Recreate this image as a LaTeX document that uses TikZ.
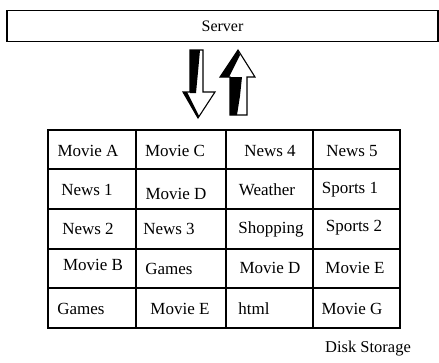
\documentclass[tikz,border=0pt]{standalone}
\usepackage{fontspec}
\setmainfont{Liberation Serif}
\begin{document}
\begin{tikzpicture}[x=1pt,y=-1pt,
  frame/.style={line width=1.2pt},
  celltext/.style={inner sep=0pt,font=\fontsize{17}{20}\selectfont},
  blockarrow/.style={draw,fill=white,line width=1.1pt,line join=miter},
  shade/.style={fill=black}]
\useasboundingbox (0,0) rectangle (439,362);

% server bar
\node[frame,draw,minimum width=431pt,minimum height=31pt,inner sep=0pt,
      font=\fontsize{16}{19}\selectfont] (server) at (222.5,26) {Server};

% down arrow (server to storage)
\draw[blockarrow] (190,50) -- (203,50) -- (203,92) -- (215,92) -- (198,118)
  -- (183,92) -- (190,92) -- cycle;
\fill[shade] (190,50) -- (200,50) -- (198,72) -- (196,93) -- (190,93) -- cycle;
\fill[shade] (183,92) -- (187,92) -- (199,116) -- (198,118) -- cycle;
\coordinate (downtip) at (198,118);

% up arrow (storage to server)
\draw[blockarrow] (238,50) -- (255,77) -- (247,77) -- (247,115) -- (230,115)
  -- (230,77) -- (220,77) -- cycle;
\fill[shade] (230,77) -- (242,77) -- (240,96) -- (237,115) -- (230,115) -- cycle;
\fill[shade] (238,50) -- (220,77) -- (229,77) -- (240,55) -- cycle;
\coordinate (uptip) at (238,50);

% disk storage grid
\draw[frame] (48,130) rectangle (400,328);
\foreach \cx in {136,226,313} \draw[frame] (\cx,130) -- (\cx,328);
\foreach \ry in {169,209,249,288} \draw[frame] (48,\ry) -- (400,\ry);

% row 1
\node[celltext] (a1) at (88,151)  {Movie A};
\node[celltext] (b1) at (175,151) {Movie C};
\node[celltext] (c1) at (270,151) {News 4};
\node[celltext] (d1) at (352,151) {News 5};
% row 2
\node[celltext] (a2) at (87,190)  {News 1};
\node[celltext] (b2) at (176,194) {Movie D};
\node[celltext] (c2) at (267,190) {Weather};
\node[celltext] (d2) at (350,190) {Sports 1};
% row 3
\node[celltext] (a3) at (88,229)  {News 2};
\node[celltext] (b3) at (169,229) {News 3};
\node[celltext] (c3) at (271,229) {Shopping};
\node[celltext] (d3) at (354,228) {Sports 2};
% row 4
\node[celltext] (a4) at (93,265)  {Movie B};
\node[celltext] (b4) at (169,269) {Games};
\node[celltext] (c4) at (270,268) {Movie D};
\node[celltext] (d4) at (355,268) {Movie E};
% row 5
\node[celltext] (a5) at (81,309)  {Games};
\node[celltext] (b5) at (180,309) {Movie E};
\node[celltext] (c5) at (254,309) {html};
\node[celltext] (d5) at (352,309) {Movie G};

\node[celltext,font=\fontsize{16.5}{19}\selectfont] (disk) at (368,349) {Disk Storage};
\end{tikzpicture}
\end{document}
